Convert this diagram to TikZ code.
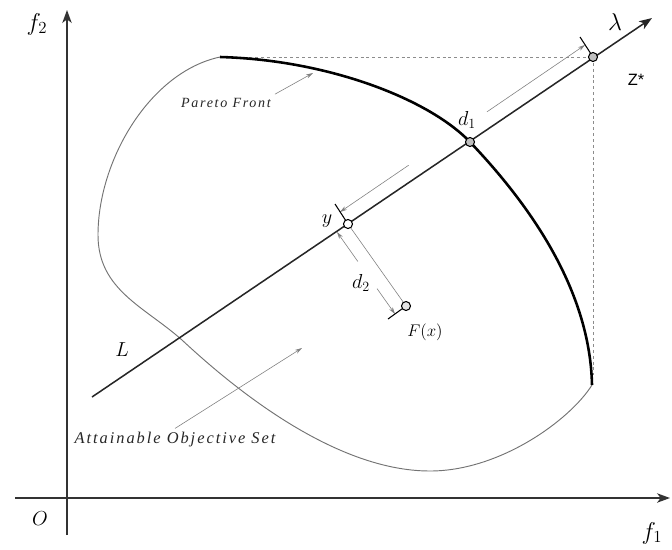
\documentclass[tikz,border=0pt]{standalone}
\usepackage{fontspec}
\usetikzlibrary{arrows.meta,calc}
\newfontfamily\capfont[LetterSpace=12]{Liberation Serif}
\newfontfamily\starfont{Liberation Sans}
\begin{document}
\begin{tikzpicture}[x=0.03cm,y=-0.03cm,
  axis/.style={line width=1.3pt,black!80,-{Stealth[length=11pt,width=8pt,inset=3pt]}},
  lamline/.style={line width=1.3pt,black!85,-{Stealth[length=11pt,width=8pt,inset=3pt]}},
  pareto/.style={line width=2.2pt,black},
  setline/.style={line width=0.8pt,black!55},
  guide/.style={line width=0.5pt,black!45,dash pattern=on 2.5pt off 2.5pt},
  dim/.style={line width=0.5pt,black!50},
  dimtip/.style={dim,-{Stealth[length=6pt,width=3.5pt]}},
  tick/.style={line width=0.9pt,black},
  pt/.style={circle,draw=black,line width=0.9pt,fill=black!25,inner sep=0pt,minimum size=0.27cm},
  lbl/.style={font=\capfont\itshape\fontsize{12}{14}\selectfont,text=black!85},
  lblbig/.style={font=\capfont\itshape\fontsize{14}{16}\selectfont,text=black!85}]
\useasboundingbox (0,0) rectangle (672,549);
\coordinate (xl) at (15,498);
\coordinate (xr) at (670,498);
\coordinate (yb) at (67,535);
\coordinate (yt) at (67,10);
\draw[axis] (xl) -- (xr);
\draw[axis] (yb) -- (yt);
\node[font=\huge] (lf2) at (37,24) {$f_2$};
\node[font=\huge] (lf1) at (652,533) {$f_1$};
\node[font=\LARGE] (lo) at (40,519) {$O$};
\coordinate (ps) at (220,57);
\coordinate (pe) at (592,385);
\coordinate (zs) at (593,57);
\coordinate (pd) at (470,142);
\coordinate (py) at (348,224);
\coordinate (pfx) at (406,306);
\coordinate (vd) at (593,375);
\draw[guide] (ps) -- (zs);
\draw[guide] (zs) -- (vd);
\draw[setline] (ps) .. controls (150,72) and (98,160) .. (98,235)
  .. controls (98,290) and (145,307) .. (182,340)
  .. controls (225,380) and (330,471) .. (430,471)
  .. controls (500,471) and (570,420) .. (pe);
\draw[pareto] (ps) .. controls (330,60) and (430,100) .. (pd)
  .. controls (530,205) and (590,290) .. (pe);
\coordinate (lend) at (92,397);
\coordinate (ltip) at (652,18);
\draw[lamline] (lend) -- (ltip);
\coordinate (a1) at ($(zs)+(-8,-12)$);
\coordinate (b1) at ($(py)+(-8,-12)$);
\coordinate (g1) at ($(b1)!0.28!(a1)$);
\coordinate (g2) at ($(b1)!0.6!(a1)$);
\draw[dimtip] (g2) -- (a1);
\draw[dimtip] (g1) -- (b1);
\coordinate (a2) at ($(py)+(-11,8)$);
\coordinate (b2) at ($(pfx)+(-11,8)$);
\coordinate (g3) at ($(a2)!0.36!(b2)$);
\coordinate (g4) at ($(a2)!0.69!(b2)$);
\draw[dimtip] (g3) -- (a2);
\draw[dimtip] (g4) -- (b2);
\draw[dim] (py) -- (pfx);
\coordinate (tz) at ($(zs)+(-13,-20)$);
\coordinate (ty) at ($(py)+(-13,-20)$);
\coordinate (tf) at ($(pfx)+(-18,13)$);
\draw[tick] (zs) -- (tz);
\draw[tick] (py) -- (ty);
\draw[tick] (pfx) -- (tf);
\node[pt] (czs) at (zs) {};
\node[pt] (cpd) at (pd) {};
\node[pt,fill=white] (cpy) at (py) {};
\node[pt,fill=black!10] (cfx) at (pfx) {};
\node[font=\huge] (llam) at (615,22) {$\lambda$};
\node[font={\starfont\fontsize{14}{16}\selectfont}] (lzs) at (636,80) {Z*};
\node[font=\LARGE] (ld1) at (467,120) {$d_1$};
\node[font=\LARGE] (ly) at (327,221) {$y$};
\node[font=\LARGE] (ld2) at (361,283) {$d_2$};
\node[font=\Large] (lfx) at (425,332) {$F(x)$};
\node[font=\LARGE] (ll) at (122,350) {$L$};
\node[lbl] (lpar) at (226,103) {Pareto Front};
\node[lblbig] (latt) at (175,440) {Attainable Objective Set};
\coordinate (pp) at (313,73);
\coordinate (ap) at (302,348);
\draw[dimtip] (lpar.north east) -- (pp);
\draw[dimtip] (latt.north) -- (ap);
\end{tikzpicture}
\end{document}
